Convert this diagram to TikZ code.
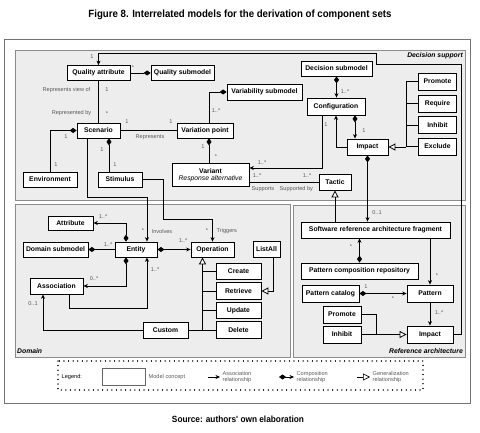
\documentclass[tikz,border=0pt]{standalone}
\usepackage{fontspec}
\setmainfont{Liberation Sans}
\newfontfamily\capfont[FakeStretch=0.92]{Liberation Sans}
\usepackage{tikz}
\usetikzlibrary{arrows.meta}

\begin{document}
\begin{tikzpicture}[x=1pt, y=-1pt,
    box/.style={draw, fill=white, line width=0.8pt, inner sep=1pt, minimum height=15,
      font=\fontsize{6.8}{8}\selectfont\bfseries},
    lbl/.style={inner sep=0.5pt, text=black!65, font=\fontsize{5.6}{6.6}\selectfont},
    panel/.style={draw=black!45, fill=black!7, line width=0.8pt},
    ptitle/.style={inner sep=0pt, font=\fontsize{6.8}{8}\selectfont\bfseries\itshape},
    link/.style={line width=0.8pt},
    comp/.style={link, {Diamond[length=7pt,width=5pt]}-},
    comparr/.style={link, {Diamond[length=7pt,width=5pt]}-{Stealth[length=4.5pt,width=4pt]}},
    arr/.style={link, -{Stealth[length=4.5pt,width=4pt]}},
    gen/.style={link, -{Triangle[open,fill=white,length=7pt,width=7pt]}}]
  \useasboundingbox (0,0) rectangle (480,433);
  \node[font=\capfont\bfseries\fontsize{10.5}{12}\selectfont] (title) at (240,15) {Figure 8. Interrelated models for the derivation of component sets};
  \node[font=\capfont\bfseries\fontsize{9}{11}\selectfont] (source) at (238,419) {Source: authors' own elaboration};
  \draw[black!55, line width=0.8pt] (4,39) rectangle (470,403);

  \draw[panel] (15,50) rectangle (465,200);
  \draw[panel] (15,204) rectangle (290,357);
  \draw[panel] (293,205) rectangle (465,357);
  \node[ptitle, anchor=east] (dstitle) at (463,56) {Decision support};
  \node[ptitle, anchor=west] (domtitle) at (17,351) {Domain};
  \node[ptitle, anchor=east] (reftitle) at (463,351) {Reference architecture};

  % decision support
  \node[box, minimum width=63] (qa) at (98.5,73) {Quality attribute};
  \node[box, minimum width=63] (qsub) at (182.5,73) {Quality submodel};
  \node[box, minimum width=43] (scen) at (98.5,130.5) {Scenario};
  \node[box, minimum width=56] (vp) at (205,130.5) {Variation point};
  \node[box, minimum width=75, minimum height=16] (vsub) at (264.5,92) {Variability submodel};
  \node[box, minimum width=54] (env) at (50,179.5) {Environment};
  \node[box, minimum width=44] (stim) at (120,179.5) {Stimulus};
  \node[box, minimum width=77, minimum height=23, align=center] (variant) at (210.5,175) {Variant\\[-1pt]{\mdseries\itshape Response alternative}};
  \node[box, minimum width=71] (dsub) at (336.5,68.5) {Decision submodel};
  \node[box, minimum width=58, minimum height=17] (conf) at (336,106.5) {Configuration};
  \node[box, minimum width=41, minimum height=16] (dimp) at (367.5,147) {Impact};
  \foreach \n/\y/\t in {prom/81.5/Promote, req/103.5/Require, inh/125/Inhibit, excl/146.5/Exclude}
    \node[box, minimum width=38, minimum height=17] (\n) at (437.5,\y) {\t};
  \node[box, minimum width=32, minimum height=16] (tactic) at (335,182) {Tactic};

  % domain
  \node[box, minimum width=45, minimum height=14] (attr) at (70.5,223) {Attribute};
  \node[box, minimum width=65] (dsubm) at (55.5,249.5) {Domain submodel};
  \node[box, minimum width=42] (ent) at (136,249.5) {Entity};
  \node[box, minimum width=43] (op) at (212.5,249.5) {Operation};
  \node[box, minimum width=53, minimum height=16] (assoc) at (56.5,286) {Association};
  \node[box, minimum width=45, minimum height=16] (custom) at (165.5,330) {Custom};
  \foreach \n/\y/\t in {create/271.5/Create, retr/291/Retrieve, upd/310.5/Update, del/330/Delete}
    \node[box, minimum width=45, minimum height=16.5] (\n) at (238.5,\y) {\t};
  \node[box, minimum width=27, minimum height=16] (listall) at (266.5,249) {ListAll};

  % reference architecture
  \node[box, minimum width=149, minimum height=16] (sraf) at (375.5,230) {Software reference architecture fragment};
  \node[box, minimum width=117, minimum height=16] (pcr) at (359.5,271) {Pattern composition repository};
  \node[box, minimum width=57, minimum height=17] (pcat) at (330.5,293.5) {Pattern catalog};
  \node[box, minimum width=46, minimum height=17] (pat) at (430,293.5) {Pattern};
  \node[box, minimum width=38, minimum height=17] (rprom) at (342,314.5) {Promote};
  \node[box, minimum width=38, minimum height=17] (rinh) at (342,334.5) {Inhibit};
  \node[box, minimum width=46, minimum height=17] (rimp) at (430,334.5) {Impact};

  % connectors
  \coordinate (r1) at (461,64);
  \coordinate (r2) at (376,53);
  \draw[arr] (rimp.east) -| (r1) -| (r2) -| (qa.north);
  \draw[comp] (qsub.west) -- (qa.east);
  \draw[link] (qa) -- (scen);
  \draw[comp] (scen.west) -| (env.north);
  \draw[comp] ([xshift=10.5pt]scen.south) -- ([xshift=10.5pt]scen.south |- stim.north);
  \draw[link] (scen) -- (vp);
  \draw[comp] (vsub.west) -| ([xshift=4pt]vp.north);
  \draw[comp] ([xshift=4pt]vp.south) -- ([xshift=4pt]vp.south |- variant.north);
  \draw[comparr] (dsub.south) -- (dsub.south |- conf.north);
  \draw[comparr] ([xshift=19pt]conf.south) -- ([xshift=19pt]conf.south |- dimp.north);
  \draw[arr] (dimp.west) -| (conf.south);
  \draw[arr] ([xshift=-14pt]conf.south) |- ([yshift=7pt]variant.east);
  \draw[link] ([yshift=-7pt]variant.east) -- ([yshift=-7pt]variant.east -| tactic.west);
  \coordinate (dbus) at (406,147);
  \foreach \n in {prom,req,inh,excl} \draw[link] (\n.west) -| (dbus);
  \draw[gen] (dbus) -- (dimp.east);
  \draw[comparr] (dimp.south) -- (dimp.south |- sraf.north);
  \draw[gen] (tactic.south |- sraf.north) -- (tactic.south);
  \draw[comparr] (pcr.north) -- (pcr.north |- sraf.south);
  \draw[arr] (pat.north |- sraf.south) -- (pat.north);
  \draw[comparr] (pcat) -- (pat);
  \draw[arr] (pat) -- (rimp);
  \coordinate (rbus) at (376,334.5);
  \draw[link] (rprom.east) -| (rbus);
  \draw[gen] (rinh.east) -- (rimp.west);

  \coordinate (inv) at (147,197);
  \draw[arr] ([xshift=-11.5pt]scen.south) |- (inv) -- ([xshift=11pt]ent.north);
  \coordinate (trg) at (163,219);
  \draw[arr] (stim.east) -| (trg) -| (op.north);
  \draw[comparr] ([xshift=-10pt]ent.north) |- (attr.east);
  \draw[comp] (dsubm) -- (ent);
  \draw[comparr] (ent) -- (op);
  \draw[comparr] ([xshift=-10pt]ent.south) |- (assoc.east);
  \coordinate (ass) at (147,308);
  \draw[arr] ([xshift=12.5pt]assoc.south) |- (ass) -- ([xshift=11pt]ent.south);
  \draw[arr] (custom.west) -| ([xshift=-13.5pt]assoc.south);
  \coordinate (obus) at (202.5,266);
  \foreach \n in {create,retr,upd,del,custom} \draw[link] (\n) -| (obus);
  \draw[gen] (obus) -- ([xshift=-10pt]op.south);
  \draw[gen] ([xshift=6.5pt]listall.south) |- (retr.east);

  % multiplicities and roles
  \foreach \x/\y/\l [count=\i] in {133/68/*, 92/57/1, 107/90/1, 107/114/*, 66/137/1, 56/165/1,
      102/150/1, 115/165/1, 127/122/1, 171/122/1, 216/111/1..*, 203/147/1, 216/157/*,
      345/92/1..*, 326/125/1, 364/131/1, 262/163/1..*, 257/176/1..*, 307/176/1..*,
      377/213/0..1, 351/247/*, 437/276/*, 366/287/1, 393/299/*, 439/313/1..*,
      103/217/1..*, 108/245/1..*, 183/241/1..*, 143/231/*, 207/231/*, 94/279/0..*,
      155/270/1..*, 33/304/0..1}
    \node[lbl] (m\i) at (\x,\y) {\l};
  \node[lbl, anchor=east] (rview) at (91,90) {Represents view of};
  \node[lbl, anchor=east] (rby) at (92,113) {Represented by};
  \node[lbl] (repr) at (150,137) {Represents};
  \node[lbl, anchor=west] (sup) at (251,189) {Supports};
  \node[lbl, anchor=west] (supby) at (279,189) {Supported by};
  \node[lbl, anchor=west] (invl) at (151,231) {Involves};
  \node[lbl, anchor=west] (trgl) at (216,231) {Triggers};

  % legend
  \draw[line width=1.1pt, dash pattern=on 0.1pt off 4.5pt, line cap=round] (58,361) rectangle (423,390);
  \node[lbl, text=black, anchor=west] (leg) at (61,377) {Legend:};
  \node[box, draw=black!60, minimum width=43, minimum height=17] (lbox) at (123.5,376.5) {};
  \node[lbl, anchor=west] (lmod) at (148,377) {Model concept};
  \coordinate (la) at (208,377);
  \coordinate (lb) at (220,377);
  \draw[arr, line width=0.6pt] (la) -- (lb);
  \node[lbl, anchor=west, align=left] (lass) at (222,377) {Association\\relationship};
  \coordinate (lc) at (279,377);
  \coordinate (ld) at (294,377);
  \draw[comparr, line width=0.6pt] (lc) -- (ld);
  \node[lbl, anchor=west, align=left] (lcomp) at (296,377) {Composition\\relationship};
  \coordinate (le) at (357,377);
  \coordinate (lf) at (370,377);
  \draw[gen, line width=0.6pt] (le) -- (lf);
  \node[lbl, anchor=west, align=left] (lgen) at (372,377) {Generalization\\relationship};
\end{tikzpicture}
\end{document}
